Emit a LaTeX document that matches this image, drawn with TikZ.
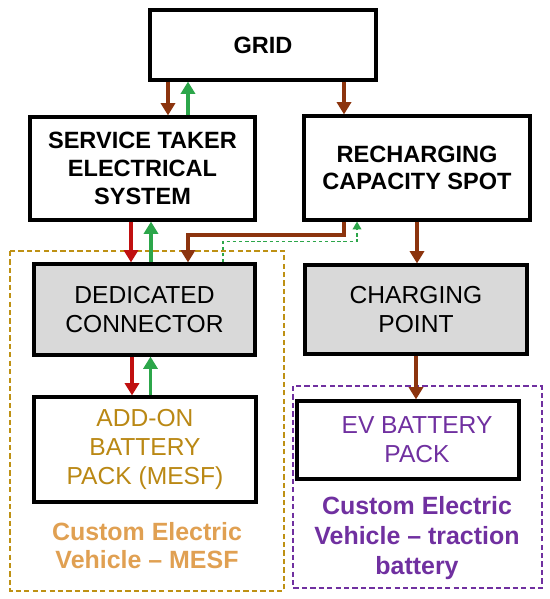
\documentclass[tikz,border=0pt]{standalone}
\usepackage{fontspec}
\setmainfont{Liberation Sans}
\usepackage{tikz}
\usetikzlibrary{arrows.meta}

\definecolor{flowred}{RGB}{192,16,16}
\definecolor{flowbrown}{RGB}{140,52,14}
\definecolor{flowgreen}{RGB}{44,166,74}
\definecolor{mesfline}{RGB}{190,145,20}
\definecolor{mesftext}{RGB}{186,136,20}
\definecolor{mesflabel}{RGB}{224,160,82}
\definecolor{evpurple}{RGB}{112,48,160}

\tikzset{
  blockbox/.style={draw=black, line width=1.8pt, fill=white, align=center},
  greybox/.style={blockbox, fill=black!15},
  boldlbl/.style={font=\bfseries\fontsize{13.4}{15.8}\selectfont},
  plainlbl/.style={font=\fontsize{14}{16.6}\selectfont},
  flow/.style={line width=2.2pt, -{Triangle[length=7pt,width=8pt]}},
  frame/.style={line width=1.6pt, dash pattern=on 3pt off 1.8pt}
}

\begin{document}
\begin{tikzpicture}[x=0.02cm, y=-0.02cm]
  \useasboundingbox (0,0) rectangle (550,599);

  % vehicle frames
  \draw[frame, mesfline] (10,251) rectangle (284,591);
  \draw[frame, evpurple] (293,386) rectangle (542,588);

  % blocks
  \node[blockbox, boldlbl, minimum width=4.52cm, minimum height=1.4cm] (grid) at (263,45) {GRID};
  \node[blockbox, boldlbl, minimum width=4.5cm, minimum height=2.06cm] (svc) at (142.5,168.5)
    {SERVICE TAKER\\ELECTRICAL\\SYSTEM};
  \node[blockbox, boldlbl, minimum width=4.52cm, minimum height=2.08cm] (rcs) at (417,168)
    {RECHARGING\\CAPACITY SPOT};
  \node[greybox, plainlbl, minimum width=4.42cm, minimum height=1.82cm] (conn) at (144.5,309.5)
    {DEDICATED\\CONNECTOR};
  \node[greybox, plainlbl, minimum width=4.44cm, minimum height=1.78cm] (cpt) at (416,309.5)
    {CHARGING\\POINT};
  \node[blockbox, plainlbl, text=mesftext, minimum width=4.44cm, minimum height=2.1cm] (addon) at (145,449.5)
    {ADD-ON\\BATTERY\\PACK (MESF)};
  \node[blockbox, minimum width=4.44cm, minimum height=1.56cm] (evb) at (408,440) {};
  \node[plainlbl, text=evpurple, align=center] (evbtxt) at (417,440) {EV BATTERY\\PACK};

  % frame labels
  \node[text=mesflabel, align=center, font=\bfseries\fontsize{14.2}{16}\selectfont] (mesflbl) at (147,546)
    {Custom Electric\\Vehicle – MESF};
  \node[text=evpurple, align=center, font=\bfseries\fontsize{14.2}{17}\selectfont] (evlbl) at (417,538)
    {Custom Electric\\Vehicle – traction\\battery};

  % power flows
  \draw[flow, flowbrown] ([xshift=0.51cm]svc.north |- grid.south) -- ([xshift=0.51cm]svc.north);
  \draw[flow, flowgreen] ([xshift=0.91cm]svc.north) -- ([xshift=0.91cm]svc.north |- grid.south);
  \draw[flow, flowbrown] ([xshift=-1.46cm]rcs.north |- grid.south) -- ([xshift=-1.46cm]rcs.north);
  \draw[flow, flowred] ([xshift=-0.27cm]conn.north |- svc.south) -- ([xshift=-0.27cm]conn.north);
  \draw[flow, flowgreen] ([xshift=0.13cm]conn.north) -- ([xshift=0.13cm]conn.north |- svc.south);
  \draw[flow, flowbrown] ([xshift=-1.46cm]rcs.south) -- ++(0,13) -| ([xshift=0.87cm]conn.north);
  \draw[flowgreen, line width=0.9pt, dash pattern=on 2pt off 1.5pt, -{Triangle[length=4.5pt,width=5pt]}]
    ([xshift=1.57cm]conn.north) -- ++(0,-21) -| ([xshift=-1.2cm]rcs.south);
  \draw[flow, flowbrown] (rcs.south) -- (rcs.south |- cpt.north);
  \draw[flow, flowred] ([xshift=-0.25cm]conn.south) -- ([xshift=-0.25cm]conn.south |- addon.north);
  \draw[flow, flowgreen] ([xshift=0.12cm]conn.south |- addon.north) -- ([xshift=0.12cm]conn.south);
  \draw[flow, flowbrown] (cpt.south) -- (cpt.south |- evb.north);
\end{tikzpicture}
\end{document}
